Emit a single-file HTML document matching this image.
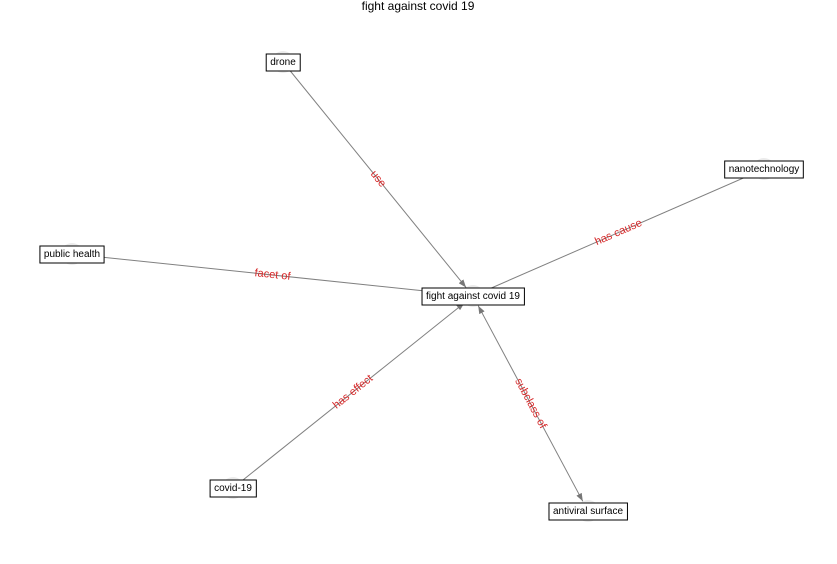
<!DOCTYPE html>
<html><head><meta charset="utf-8"><style>
body{margin:0;background:#fff;width:837px;height:559px;overflow:hidden;font-family:"Liberation Sans",sans-serif}
</style></head><body>
<svg id="g" width="837" height="559" xmlns="http://www.w3.org/2000/svg">
<defs><marker id="ah" markerWidth="8" markerHeight="6" refX="8" refY="3" orient="auto" markerUnits="userSpaceOnUse"><path d="M0,0 L8,3 L0,6 Z" fill="#777"/></marker>
<marker id="ahs" markerWidth="8" markerHeight="6" refX="0" refY="3" orient="auto" markerUnits="userSpaceOnUse"><path d="M8,0 L0,3 L8,6 Z" fill="#777"/></marker></defs>
<text x="418" y="10" text-anchor="middle" font-size="12" fill="#000">fight against covid 19</text>
</svg>
<script>
const nodeNames=["fight against covid 19","drone","nanotechnology","public health","covid-19","antiviral surface"];
const nodeX=[473,283,764,72,233,588];
const nodeY=[296,62,169,254,488,511];
const edgeFrom=[1,0,3,4,0];
const edgeTo=[0,2,0,0,5];
const edgeLabels=["use","has cause","facet of","has effect","subclass of"];
const edgeArrowEnd=[1,0,0,1,1];
const edgeArrowStart=[0,0,0,0,1];
const NS="http://www.w3.org/2000/svg";
const svg=document.getElementById("g");
function mk(t,a){const e=document.createElementNS(NS,t);for(const k in a)e.setAttribute(k,a[k]);return e;}
const edgeLayer=mk("g",{});svg.appendChild(edgeLayer);
const nodeLayer=mk("g",{});svg.appendChild(nodeLayer);
const labelLayer=mk("g",{});svg.appendChild(labelLayer);
nodeNames.forEach((n,i)=>{
  const c=mk("circle",{cx:nodeX[i],cy:nodeY[i],r:11,fill:"#ebebeb"});
  
  
  nodeLayer.appendChild(c);
});
edgeFrom.forEach((f,i)=>{
  const t=edgeTo[i];
  const x1=nodeX[f],y1=nodeY[f],x2=nodeX[t],y2=nodeY[t];
  const dx=x2-x1,dy=y2-y1,L=Math.hypot(dx,dy),ux=dx/L,uy=dy/L,r=11;
  const l=mk("line",{x1:x1+ux*(edgeArrowStart[i]?r:0),y1:y1+uy*(edgeArrowStart[i]?r:0),x2:x2-ux*(edgeArrowEnd[i]?r:0),y2:y2-uy*(edgeArrowEnd[i]?r:0),stroke:"#808080","stroke-width":1});
  if(edgeArrowEnd[i])l.setAttribute("marker-end","url(#ah)");
  if(edgeArrowStart[i])l.setAttribute("marker-start","url(#ahs)");
  
  
  edgeLayer.appendChild(l);
  let ang=Math.atan2(dy,dx)*180/Math.PI;
  if(ang>90)ang-=180;if(ang<-90)ang+=180;
  const mx=(x1+x2)/2,my=(y1+y2)/2;
  const tx=mk("text",{x:mx,y:my,"text-anchor":"middle","dominant-baseline":"central","font-size":11,fill:"#d62728",transform:`rotate(${ang} ${mx} ${my})`});
  tx.textContent=edgeLabels[i];
  
  
  labelLayer.appendChild(tx);
});
nodeNames.forEach((n,i)=>{
  const g=mk("g",{});
  
  
  const tx=mk("text",{x:nodeX[i],y:nodeY[i]+0.5,"text-anchor":"middle","dominant-baseline":"central","font-size":10,fill:"#000"});
  tx.textContent=n;
  g.appendChild(tx);labelLayer.appendChild(g);
  const b=tx.getBBox();
  const rc=mk("rect",{x:b.x-4,y:nodeY[i]-8,width:b.width+8,height:17,fill:"#fff",stroke:"#000","stroke-width":1});
  g.insertBefore(rc,tx);
});
</script>
</body></html>
